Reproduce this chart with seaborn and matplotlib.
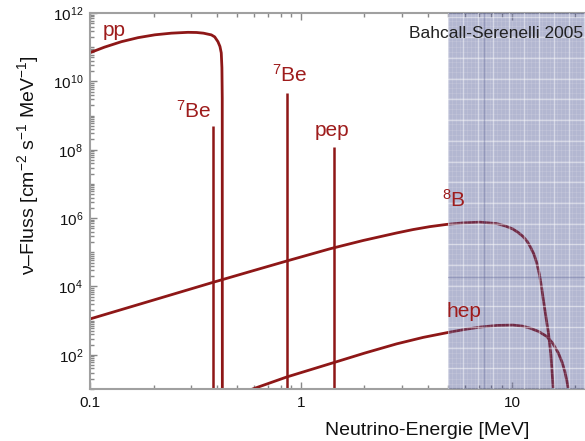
import matplotlib
matplotlib.use('Agg')
import matplotlib.pyplot as plt
import matplotlib.ticker as ticker
import seaborn as sns

# spectra (energy in MeV, flux in cm^-2 s^-1 MeV^-1)
pp_energy = [0.1, 0.117, 0.141, 0.169, 0.203, 0.243, 0.291, 0.32, 0.345, 0.376, 0.39, 0.404, 0.413, 0.419,
             0.422, 0.4235, 0.424]
pp_flux = [6.9e10, 1.0e11, 1.45e11, 1.9e11, 2.3e11, 2.57e11, 2.72e11, 2.69e11, 2.57e11, 2.29e11, 2.0e11,
           1.45e11, 1.05e11, 6.8e10, 2.5e10, 3.2e9, 1.0]

b8_energy = [0.1, 0.2, 0.383, 0.6, 0.86, 1.37, 1.97, 2.84, 3.4, 4.08, 4.9, 5.87, 7.05, 8.45, 9.3, 10.1, 10.7,
             11.3, 11.8, 12.2, 12.7, 13.1, 13.5, 13.8, 14.1, 14.5, 14.9, 15.3, 15.7, 15.8]
b8_flux = [1.12e3, 4.0e3, 1.32e4, 2.95e4, 5.6e4, 1.26e5, 2.21e5, 3.67e5, 4.62e5, 5.62e5, 6.53e5, 7.24e5, 7.59e5,
           6.92e5, 5.89e5, 4.79e5, 3.8e5, 2.88e5, 2.09e5, 1.48e5, 8.9e4, 5.0e4, 2.24e4, 1.0e4, 4.0e3, 1.26e3,
           4.3e2, 1.0e2, 10, 1.0]

hep_energy = [0.53, 0.855, 1.44, 2.0, 2.84, 3.8, 4.9, 6.0, 7.05, 8.5, 10.1, 11.2, 12.2, 13.4, 14.6, 15.6, 16.6,
              17.3, 17.8, 18.2, 18.5, 18.7]
hep_flux = [7.9, 22.4, 60, 112, 209, 324, 442, 556, 646, 724, 741, 692, 603, 479, 347, 219, 112, 60, 33, 17.8,
            10, 5]

line_energy = [0.384, 0.862, 1.44]
line_flux = [4.8e8, 4.5e9, 1.2e8]

# label text and anchor (energy, flux) for each source
label_text = ['pp', '$^{7}$Be', '$^{7}$Be', 'pep', '$^{8}$B', 'hep']
label_x = [0.115, 0.378, 0.726, 1.16, 4.64, 4.9]
label_y = [2.1e11, 8.5e8, 9.8e9, 2.5e8, 2.2e6, 1.3e3]
label_ha = ['left', 'right', 'left', 'left', 'left', 'left']

sns.set_style('white')
plt.rcParams['font.family'] = ['Liberation Sans', 'DejaVu Sans']
plt.rcParams['mathtext.fontset'] = 'custom'
plt.rcParams['mathtext.rm'] = 'Liberation Sans'
plt.rcParams['mathtext.it'] = 'Liberation Sans:italic'
plt.rcParams['mathtext.bf'] = 'Liberation Sans:bold'

line_col = '#8e1717'
text_col = '#9e1c1c'

fig = plt.figure(figsize=(5.85, 4.41), dpi=100)
ax = fig.add_axes([90 / 585, 1 - 389 / 441, 495 / 585, 376 / 441])

for xs, ys in [(pp_energy, pp_flux), (b8_energy, b8_flux), (hep_energy, hep_flux)]:
    sns.lineplot(x=xs, y=ys, ax=ax, color=line_col, lw=2.0, sort=False, estimator=None, zorder=2)
ax.vlines(line_energy, 1.0, line_flux, color=line_col, lw=1.8, zorder=2)

ax.set_xscale('log')
ax.set_yscale('log')
ax.set_xlim(0.1, 22.2)
ax.set_ylim(10, 1e12)
ax.set_xlabel('')
ax.set_ylabel('')

for t, x, y, ha in zip(label_text, label_x, label_y, label_ha):
    ax.text(x, y, t, color=text_col, fontsize=15, ha=ha, va='baseline', zorder=5)

# shaded high-energy region with a faint grid texture
ax.axvspan(5, 30, color=(67 / 255, 75 / 255, 142 / 255), alpha=0.4, lw=0, zorder=3)
ins = ax.inset_axes([5, 10, 17.2, 1e12 - 10], transform=ax.transData, zorder=3.5)
ins.patch.set_visible(False)
for s in ins.spines.values():
    s.set_visible(False)
ins.set_xlim(0, 1)
ins.set_ylim(0, 1)
ins.xaxis.set_major_locator(ticker.MultipleLocator(0.11))
ins.yaxis.set_major_locator(ticker.MultipleLocator(0.055))
ins.xaxis.set_minor_locator(ticker.MultipleLocator(0.0275))
ins.yaxis.set_minor_locator(ticker.MultipleLocator(0.0138))
ins.tick_params(which='both', left=False, bottom=False, labelleft=False, labelbottom=False)
ins.grid(True, which='major', color='white', lw=1.0, alpha=0.45)
ins.grid(True, which='minor', color='white', lw=0.5, alpha=0.15)
ins.axvline(0.26, color='#5a5f92', lw=1.0, alpha=0.35)
ins.axhline(0.298, color='#5a5f92', lw=1.0, alpha=0.35)

ax.text(0.996, 0.933, 'Bahcall-Serenelli 2005', transform=ax.transAxes, ha='right', va='baseline',
        fontsize=12.5, color='#222222', zorder=6)

# axes styling
ax.yaxis.set_major_locator(ticker.LogLocator(base=100))
ax.yaxis.set_minor_locator(ticker.LogLocator(base=10, subs=[1, 2, 3, 4, 5, 6, 7, 8, 9], numticks=30))
ax.yaxis.set_minor_formatter(ticker.NullFormatter())
ax.xaxis.set_major_locator(ticker.FixedLocator([0.1, 1, 10]))
ax.xaxis.set_major_formatter(ticker.FixedFormatter(['0.1', '1', '10']))
ax.xaxis.set_minor_locator(ticker.LogLocator(base=10, subs=[2, 3, 4, 5, 6, 7, 8, 9], numticks=30))
ax.xaxis.set_minor_formatter(ticker.NullFormatter())
ax.tick_params(which='both', direction='in', top=True, bottom=True, left=True, right=False,
               color='#888888', width=1.0, labelsize=11, labelcolor='#111111')
ax.tick_params(which='major', length=5, pad=5)
ax.tick_params(which='minor', length=3)
for side in ['left', 'bottom', 'top']:
    ax.spines[side].set_color('#a0a0a0')
    ax.spines[side].set_linewidth(1.5)
ax.spines['right'].set_visible(False)

fig.text(28 / 585, 1 - 165 / 441, '\u03bd\u2013Fluss [cm$^{-2}$ s$^{-1}$ MeV$^{-1}$]', rotation=90,
         ha='center', va='center', fontsize=14, color='#111111')
fig.text(427.5 / 585, 1 - 435 / 441, 'Neutrino-Energie [MeV]', ha='center', va='baseline',
         fontsize=14, color='#111111')

fig.savefig('out.png', dpi=100)
